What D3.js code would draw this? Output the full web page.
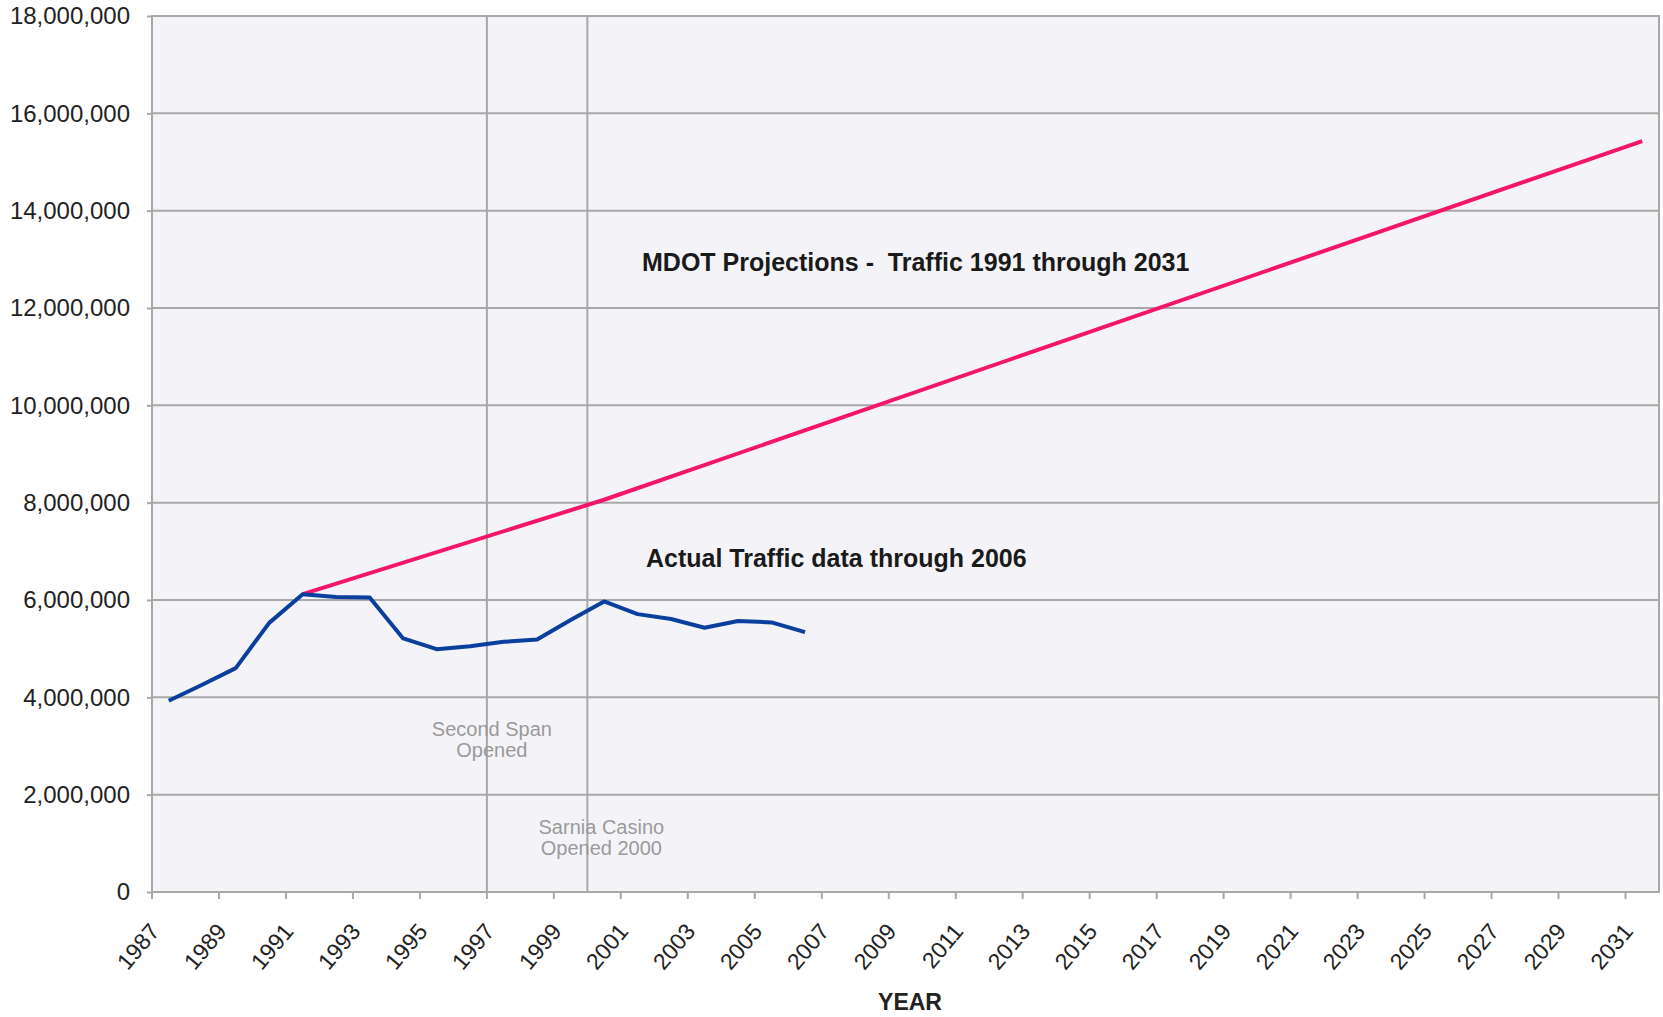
<!DOCTYPE html>
<html>
<head>
<meta charset="utf-8">
<script src="https://cdn.jsdelivr.net/npm/d3@7"></script>
<style>
  body { margin: 0; background: #fff; }
  text { font-family: "Liberation Sans", Arial, sans-serif; }
</style>
</head>
<body>
<div id="chart"></div>
<script>
// categories on the x axis (one per year)
var years = d3.range(1987, 2032);
var labelYears = [1987, 1989, 1991, 1993, 1995, 1997, 1999, 2001, 2003, 2005, 2007, 2009,
                  2011, 2013, 2015, 2017, 2019, 2021, 2023, 2025, 2027, 2029, 2031];
var yTicks = [0, 2000000, 4000000, 6000000, 8000000, 10000000, 12000000, 14000000, 16000000, 18000000];

// actual traffic
var actualYears = [1987, 1988, 1989, 1990, 1991, 1992, 1993, 1994, 1995, 1996,
                   1997, 1998, 1999, 2000, 2001, 2002, 2003, 2004, 2005, 2006];
var actualTraffic = [3930000, 4260000, 4600000, 5530000, 6120000, 6060000, 6050000, 5210000, 4990000, 5050000,
                     5140000, 5190000, 5590000, 5970000, 5710000, 5610000, 5430000, 5570000, 5540000, 5340000];

// MDOT projection
var projYears = [1991, 2000, 2031];
var projTraffic = [6120000, 8060000, 15430000];

// event markers
var markerYears = [1997, 2000];
var markerNotes = [["Second Span", "Opened"], ["Sarnia Casino", "Opened 2000"]];

var W = 1663, H = 1017;
var margin = {top: 16, right: 4, bottom: 125, left: 152};
var width = W - margin.left - margin.right;
var height = H - margin.top - margin.bottom;

var x = d3.scaleBand().domain(years).range([0, width]).padding(0);
var y = d3.scaleLinear().domain([0, 18000000]).range([height, 0]);
var cx = function(yr) { return x(yr) + x.bandwidth() / 2; };

var svg = d3.select("#chart").append("svg")
    .attr("width", W).attr("height", H)
    .append("g")
    .attr("transform", "translate(" + margin.left + "," + margin.top + ")");

// plot background
svg.append("rect")
    .attr("width", width).attr("height", height)
    .style("fill", "#f4f4f8")
    .style("stroke", "#a8a8a8").style("stroke-width", 2);

// gridlines
svg.selectAll("line.grid")
    .data(yTicks.slice(1, -1))
    .enter().append("line")
    .attr("class", "grid")
    .attr("x1", 0).attr("x2", width)
    .attr("y1", function(d) { return y(d); })
    .attr("y2", function(d) { return y(d); })
    .style("stroke", "#a8a8a8").style("stroke-width", 2);

// vertical markers
svg.selectAll("line.marker")
    .data(markerYears)
    .enter().append("line")
    .attr("class", "marker")
    .attr("x1", function(d) { return x(d); }).attr("x2", function(d) { return x(d); })
    .attr("y1", 0).attr("y2", height)
    .style("stroke", "#a8a8a8").style("stroke-width", 2);

// notes under markers
var noteY = [y(3200000), y(1200000)];
var noteDx = [5, 14];
markerNotes.forEach(function(lines, i) {
  var t = svg.append("text")
      .attr("x", x(markerYears[i]) + noteDx[i])
      .attr("y", noteY[i])
      .attr("text-anchor", "middle")
      .style("font-size", "20px")
      .style("fill", "#9a9a9a");
  lines.forEach(function(s, j) {
    t.append("tspan").attr("x", x(markerYears[i]) + noteDx[i]).attr("dy", j ? "1.05em" : 0).text(s);
  });
});

// y axis
var yAxis = d3.axisLeft(y).tickValues(yTicks).tickFormat(d3.format(",")).tickSize(5).tickPadding(17);
var gy = svg.append("g").attr("class", "y axis").call(yAxis);
gy.select(".domain").remove();
gy.selectAll("line").style("stroke", "#a8a8a8").style("stroke-width", 2);
gy.selectAll("text").style("font-size", "24px").style("fill", "#222");

// x axis: tick marks at every second category boundary, labels at category centres
var gx = svg.append("g").attr("class", "x axis").attr("transform", "translate(0," + height + ")");
gx.append("line").attr("x1", 0).attr("x2", width)
    .style("stroke", "#a8a8a8").style("stroke-width", 2);
gx.selectAll("line.tick")
    .data(labelYears)
    .enter().append("line")
    .attr("class", "tick")
    .attr("x1", function(d) { return x(d); }).attr("x2", function(d) { return x(d); })
    .attr("y1", 0).attr("y2", 7)
    .style("stroke", "#a8a8a8").style("stroke-width", 2);
gx.selectAll("text")
    .data(labelYears)
    .enter().append("text")
    .attr("transform", function(d) { return "translate(" + (cx(d) - 8) + ",40) rotate(-50)"; })
    .attr("text-anchor", "end")
    .style("font-size", "23px")
    .style("fill", "#222")
    .text(function(d) { return d; });

svg.append("text")
    .attr("x", 758).attr("y", height + 118)
    .attr("text-anchor", "middle")
    .style("font-size", "23px").style("font-weight", "bold").style("fill", "#222")
    .text("YEAR");

// lines
var line = d3.line()
    .x(function(d) { return cx(d[0]); })
    .y(function(d) { return y(d[1]); });

svg.append("path")
    .datum(d3.zip(projYears, projTraffic))
    .attr("d", line)
    .style("fill", "none").style("stroke", "#f5156a").style("stroke-width", 4);

svg.append("path")
    .datum(d3.zip(actualYears, actualTraffic))
    .attr("d", line)
    .style("fill", "none").style("stroke", "#0a3f9e").style("stroke-width", 4)
    .style("stroke-linejoin", "round");

// series captions
svg.append("text")
    .attr("x", 490).attr("y", 255)
    .style("font-size", "25px").style("font-weight", "bold").style("fill", "#1a1a1a")
    .style("white-space", "pre")
    .text("MDOT Projections -  Traffic 1991 through 2031");

svg.append("text")
    .attr("x", 494).attr("y", 551)
    .style("font-size", "25px").style("font-weight", "bold").style("fill", "#1a1a1a")
    .text("Actual Traffic data through 2006");
</script>
</body>
</html>
